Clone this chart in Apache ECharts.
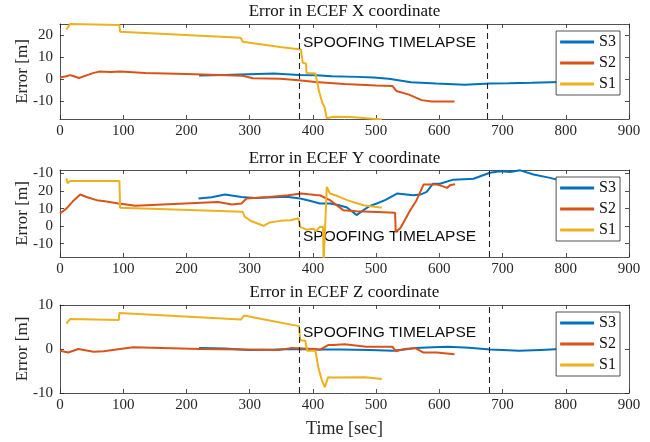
<!DOCTYPE html>
<html>
<head>
<meta charset="utf-8">
<script src="https://cdn.jsdelivr.net/npm/echarts@6/dist/echarts.min.js"></script>
<style>
html,body{margin:0;padding:0;background:#fff;}
#chart{width:650px;height:442px;}
</style>
</head>
<body>
<div id="chart"></div>
<script>
// ---------- DATA ----------
const seriesNames = ['S3', 'S2', 'S1'];
const plotTitles = ['Error in ECEF X coordinate', 'Error in ECEF Y coordinate', 'Error in ECEF Z coordinate'];
const xTicks = [0, 100, 200, 300, 400, 500, 600, 700, 800, 900];
const yTicksX = [-10, 0, 10, 20];
const yTickLabelsX = ['-10', '0', '10', '20'];
const yTicksY = [-10, 0, 10, 20, 30];
const yTickLabelsY = ['-10', '0', '10', '20', '-10'];
const yTicksZ = [-10, 0, 10];
const yTickLabelsZ = ['-10', '0', '10'];
const yRangeX = [-18.3, 25];
const yRangeY = [-17.6, 32];
const yRangeZ = [-10, 10];
const spoofX = [378, 676];
const spoofY = [379, 679];
const spoofZ = [378, 679];
const spoofText = 'SPOOFING TIMELAPSE';

// X coordinate error [time, error]
const X_S3 = [[220,1.5],[260,1.8],[299,2.1],[338,2.4],[378,1.8],[405,1.6],[430,1.2],[470,0.9],[496,0.6],[520,0],[535,-0.6],[555,-1.5],[595,-2.1],[640,-2.7],[680,-2.1],[710,-2.0],[746,-1.8],[792,-1.4]];
const X_S2 = [[0,0.6],[10,1.2],[16,1.7],[22,1.2],[30,0.4],[43,1.7],[52,2.6],[62,3.3],[80,3.1],[95,3.3],[135,2.7],[200,2.2],[250,1.8],[289,1.4],[305,0.3],[348,0.0],[378,-0.6],[404,-1.4],[450,-2.4],[500,-3.0],[526,-3.3],[532,-5.5],[552,-7.2],[572,-9.7],[588,-10.3],[624,-10.3]];
const X_S1 = [[10,22.5],[16,25],[94,24.5],[95,21.5],[286,18.7],[289,16.9],[348,14.5],[381,13.4],[384,7.3],[389,7],[390,2.7],[404,2.4],[410,-6],[415,-11],[418,-12.5],[422,-18],[432,-17.3],[460,-17.4],[485,-18],[509,-18.5]];

// Y coordinate error
const Y_S3 = [[219,15.7],[240,16.5],[261,18],[287,16.6],[308,16.1],[348,16.6],[361,16.6],[380,15.7],[395,14.5],[411,12.9],[427,12.9],[440,12],[454,10.6],[469,6.3],[480,9.1],[490,11.5],[501,12.9],[515,15],[533,18.6],[559,17.6],[570,18],[580,19.5],[590,24.2],[601,24.2],[622,26.5],[654,27],[680,30.4],[696,31.3],[712,30.9],[728,31.8],[749,29.4],[775,27.5],[791,26.1]];
const Y_S2 = [[0,7.2],[2,7.2],[10,10],[20,14],[32,18],[42,16.6],[58,14.8],[71,14.2],[92,12.9],[105,12.3],[119,11.6],[250,13.8],[272,12.3],[287,12.9],[295,15.7],[330,16.6],[361,17.6],[382,18.6],[404,17.8],[411,17.6],[427,14.8],[448,9.1],[469,8.5],[501,8.1],[530,7.6],[531,-3.2],[538,-1.3],[554,9.1],[564,14.8],[575,23.7],[596,23.7],[605,22.8],[612,21.8],[618,23.5],[625,23.9]];
const Y_S1 = [[10,27.3],[12,24.5],[16,25.8],[94,25.8],[95,10.5],[289,8.2],[292,5.4],[302,2.9],[322,0.2],[332,2.1],[348,3],[365,3.4],[377,4.5],[380,-0.4],[390,-2],[401,-1.5],[405,-3],[411,-0.4],[416,-0.5],[417,-20],[419,-20],[422,22.3],[427,18.6],[440,17],[454,14.8],[480,11.9],[506,10.6],[509,10.6]];

// Z coordinate error
const Z_S3 = [[220,0.2],[260,0.1],[299,-0.2],[340,-0.1],[378,0],[410,-0.1],[443,-0.1],[490,-0.2],[526,-0.4],[545,-0.1],[562,0.2],[590,0.4],[614,0.5],[647,0.3],[680,-0.1],[700,-0.2],[726,-0.4],[760,-0.2],[792,0]];
const Z_S2 = [[0,-0.4],[13,-0.8],[29,0],[40,-0.3],[53,-0.6],[69,-0.5],[95,0],[116,0.4],[221,0],[289,-0.1],[348,-0.2],[365,0.2],[404,0],[411,-0.2],[424,0.9],[432,0.9],[450,1.1],[485,0.5],[526,0.5],[531,-0.5],[545,0],[562,0.2],[575,-0.8],[596,-0.8],[624,-1.2]];
const Z_S1 = [[10,5.8],[16,6.8],[93,6.6],[94,8.2],[286,6.7],[291,7.6],[319,6.8],[378,5.2],[380,2],[388,1.9],[391,-0.4],[404,-0.4],[409,-4.5],[414,-7],[419,-8.7],[424,-6.4],[430,-6.5],[483,-6.4],[509,-6.8]];

// ---------- STYLE / LAYOUT ----------
const colors = {S3: '#0072BD', S2: '#D95319', S1: '#EDB120'};
const axisColor = '#262626';
const serif = '"Liberation Serif", "DejaVu Serif", serif';
const sans = '"Liberation Sans", Arial, sans-serif';
const grids = [
  {left: 60, right: 21, top: 24, height: 95},
  {left: 60, right: 21, top: 170, height: 87},
  {left: 60, right: 21, top: 305, height: 88}
];
const plots = [
  {data: {S3: X_S3, S2: X_S2, S1: X_S1}, range: yRangeX, ticks: yTicksX, labels: yTickLabelsX, spoof: spoofX, textY: 43, titleY: 12, legendTop: 31},
  {data: {S3: Y_S3, S2: Y_S2, S1: Y_S1}, range: yRangeY, ticks: yTicksY, labels: yTickLabelsY, spoof: spoofY, textY: 237, titleY: 159, legendTop: 177},
  {data: {S3: Z_S3, S2: Z_S2, S1: Z_S1}, range: yRangeZ, ticks: yTicksZ, labels: yTickLabelsZ, spoof: spoofZ, textY: 333, titleY: 293, legendTop: 312}
];

const xAxes = [], yAxes = [], series = [], legends = [], graphics = [];
plots.forEach((p, i) => {
  const tickCommon = {show: true, inside: true, length: 4, lineStyle: {color: axisColor, width: 0.8}};
  const lineCommon = {show: true, onZero: false, lineStyle: {color: axisColor, width: 0.8}};
  xAxes.push({
    type: 'value', gridIndex: i, min: 0, max: 900, interval: 100, position: 'bottom',
    axisLine: lineCommon,
    axisTick: tickCommon,
    axisLabel: {show: true, color: axisColor, fontFamily: serif, fontSize: 15, margin: 5,
      formatter: v => xTicks.indexOf(v) >= 0 ? String(v) : ''},
    splitLine: {show: false}
  });
  xAxes.push({
    type: 'value', gridIndex: i, min: 0, max: 900, interval: 100, position: 'top',
    axisLine: lineCommon,
    axisTick: tickCommon, axisLabel: {show: false}, splitLine: {show: false}
  });
  yAxes.push({
    type: 'value', gridIndex: i, min: p.range[0], max: p.range[1], position: 'left',
    axisLine: lineCommon,
    axisTick: Object.assign({customValues: p.ticks}, tickCommon),
    axisLabel: {show: true, customValues: p.ticks, color: axisColor, fontFamily: serif, fontSize: 15, margin: 7,
      formatter: v => { const k = p.ticks.indexOf(Math.round(v)); return k >= 0 ? p.labels[k] : ''; }},
    splitLine: {show: false}
  });
  yAxes.push({
    type: 'value', gridIndex: i, min: p.range[0], max: p.range[1], position: 'right',
    axisLine: lineCommon,
    axisTick: Object.assign({customValues: p.ticks}, tickCommon),
    axisLabel: {show: false}, splitLine: {show: false}
  });
  seriesNames.forEach((name, j) => {
    const s = {
      name: name, type: 'line', xAxisIndex: 2 * i, yAxisIndex: 2 * i,
      data: p.data[name], showSymbol: false, symbol: 'none', clip: true,
      lineStyle: {color: colors[name], width: 2}, itemStyle: {color: colors[name]},
      z: 2 + j
    };
    if (j === 0) {
      s.markLine = {
        silent: true, symbol: ['none', 'none'], label: {show: false},
        lineStyle: {color: '#222', type: [6, 4], width: 1.1},
        data: p.spoof.map(t => ({xAxis: t}))
      };
    }
    series.push(s);
  });
  legends.push({
    data: seriesNames, orient: 'vertical', right: 30, top: p.legendTop,
    icon: 'rect', itemWidth: 34, itemHeight: 3, itemGap: 3,
    padding: [2, 4, 2, 4], backgroundColor: '#fff', borderColor: axisColor, borderWidth: 0.8,
    textStyle: {fontFamily: serif, fontSize: 16, color: '#111', lineHeight: 18},
    selectedMode: false
  });
  graphics.push({
    type: 'text', x: 60 + 569 / 2, y: p.titleY,
    style: {text: plotTitles[i], font: '17px ' + serif, fill: '#111', textAlign: 'center', textVerticalAlign: 'middle'}
  });
  graphics.push({
    type: 'text', x: 303, y: p.textY,
    style: {text: spoofText, font: '15.5px ' + sans, fill: '#111', textAlign: 'left', textVerticalAlign: 'middle'}
  });
  graphics.push({
    type: 'text', x: 23, y: grids[i].top + grids[i].height / 2, rotation: Math.PI / 2,
    style: {text: 'Error [m]', font: '17px ' + serif, fill: axisColor, textAlign: 'center', textVerticalAlign: 'middle'}
  });
});
graphics.push({
  type: 'text', x: 60 + 569 / 2, y: 429,
  style: {text: 'Time [sec]', font: '18px ' + serif, fill: axisColor, textAlign: 'center', textVerticalAlign: 'middle'}
});

const chart = echarts.init(document.getElementById('chart'), null, {renderer: 'canvas'});
chart.setOption({
  animation: false,
  backgroundColor: '#fff',
  grid: grids,
  xAxis: xAxes,
  yAxis: yAxes,
  legend: legends,
  series: series,
  graphic: graphics
});
</script>
</body>
</html>
